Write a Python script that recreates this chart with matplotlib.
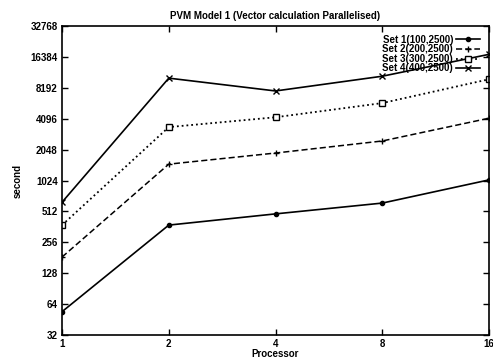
import numpy as np
import matplotlib.pyplot as plt
from matplotlib.ticker import FixedLocator, FixedFormatter, NullLocator

plt.rcParams['font.family'] = ['Liberation Sans', 'DejaVu Sans']
plt.rcParams['font.weight'] = 'bold'

procs = [1, 2, 4, 8, 16]
set1 = [54, 377, 485, 618, 1040]
set2 = [184, 1480, 1900, 2490, 4150]
set3 = [377, 3400, 4240, 5830, 9950]
set4 = [630, 10200, 7650, 10650, 17400]
labels = ['Set 1(100,2500)', 'Set 2(200,2500)', 'Set 3(300,2500)', 'Set 4(400,2500)']
yticks = [32, 64, 128, 256, 512, 1024, 2048, 4096, 8192, 16384, 32768]

fig = plt.figure(figsize=(4.93, 3.58), dpi=100)
ax = fig.add_axes([0.1258, 0.0642, 0.8662, 0.8628])

ax.plot(procs, set1, '-', color='black', lw=1.2, marker='o', ms=3, label=labels[0])
ax.plot(procs, set2, '--', color='black', lw=1.1, marker='+', ms=5, mew=1, dashes=(4, 2), label=labels[1])
ax.plot(procs, set3, ':', color='black', lw=1.3, marker='s', ms=4, mfc='white', mew=1, label=labels[2])
ax.plot(procs, set4, '-', color='black', lw=1.2, marker='x', ms=4, mew=1, label=labels[3])

ax.set_xscale('log', base=2)
ax.set_yscale('log', base=2)
ax.set_xlim(1, 16)
ax.set_ylim(32, 32768)
ax.xaxis.set_major_locator(FixedLocator(procs))
ax.xaxis.set_major_formatter(FixedFormatter([str(p) for p in procs]))
ax.xaxis.set_minor_locator(NullLocator())
ax.yaxis.set_major_locator(FixedLocator(yticks))
ax.yaxis.set_major_formatter(FixedFormatter([str(t) for t in yticks]))
ax.yaxis.set_minor_locator(NullLocator())
ax.tick_params(direction='in', length=4, width=1, top=True, right=True, labelsize=7, pad=3)
for s in ax.spines.values():
    s.set_linewidth(1.2)

ax.set_title('PVM Model 1 (Vector calculation Parallelised)', fontsize=7, fontweight='bold', pad=5)
ax.set_xlabel('Processor', fontsize=7, fontweight='bold', labelpad=0)
ax.set_ylabel('second', fontsize=7, fontweight='bold', labelpad=6)

ax.legend(loc='upper right', frameon=False, markerfirst=False, fontsize=7,
          labelspacing=-0.05, handlelength=2.5, handletextpad=0.3,
          borderaxespad=0.6, borderpad=0.3)

fig.savefig('out.png', dpi=100)
